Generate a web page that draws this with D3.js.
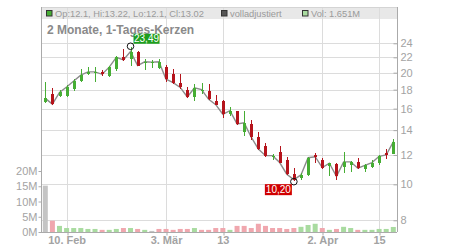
<!DOCTYPE html>
<html><head><meta charset="utf-8">
<script src="https://cdn.jsdelivr.net/npm/d3@7"></script>
<style>body{margin:0;background:#fff}svg{display:block;font-family:"Liberation Sans",Arial,sans-serif}</style>
</head><body><svg id="c" width="450" height="250"></svg>
<script>
const open  = [16.7,17.5,17.3,17.3,18.1,19.0,19.8,20.05,20.1,19.55,20.4,22.0,21.8,22.8,21.3,21.2,20.55,20.75,19.8,18.8,18.0,17.2,17.9,17.8,16.75,16.8,15.5,15.75,13.8,14.55,13.4,12.7,11.85,12.2,11.6,10.65,10.4,10.6,12.0,11.6,11.2,11.35,11.15,11.25,11.5,11.0,11.15,11.4,12.15,12.1];
const high  = [18.9,18.2,18.0,18.5,19.2,20.4,20.7,20.7,20.35,20.85,22.2,23.1,23.49,22.85,21.75,21.65,21.75,20.95,20.5,19.8,18.3,18.6,18.8,18.6,17.4,16.85,16.2,15.8,15.75,14.9,13.85,12.95,12.1,12.7,11.85,11.05,10.7,11.85,12.15,11.8,11.45,11.45,12.2,11.55,11.8,11.35,11.6,12.0,12.45,13.22];
const low   = [16.6,16.4,17.2,17.2,17.9,18.9,19.7,18.9,19.55,19.45,20.2,21.5,20.9,20.8,20.35,20.55,20.4,18.9,18.6,18.1,17.05,16.8,17.5,16.9,16.35,15.1,15.25,14.45,13.5,13.2,12.4,11.85,11.65,11.4,10.6,10.2,10.25,10.55,11.45,11.0,10.55,10.25,10.7,10.8,11.0,10.8,11.05,11.3,11.7,12.1];
const close = [17.05,16.45,17.7,18.3,19.0,19.7,20.1,20.1,19.8,20.7,22.0,21.65,22.8,20.9,21.4,21.35,21.4,19.2,18.8,18.25,17.2,18.2,18.0,16.95,16.4,15.45,15.8,14.55,14.65,13.4,12.45,11.95,11.95,11.45,10.65,10.3,10.6,11.8,11.87,11.1,11.4,10.5,11.5,11.5,11.05,11.25,11.45,11.9,12.0,13.02];
const volume = [15.2,3.7,2.0,1.3,1.3,1.3,1.0,1.0,0.7,0.7,1.0,1.3,1.3,1.0,0.7,0.35,1.0,1.0,0.7,1.0,1.0,1.3,0.7,0.7,1.3,1.3,0.7,2.0,2.0,1.3,2.7,2.0,1.3,1.3,1.0,1.3,1.7,2.3,2.7,1.3,0.7,1.0,1.7,1.3,0.7,0.7,0.7,1.0,1.0,1.651];
const volDir = ["n","d","u","u","u","u","u","u","d","u","u","d","u","d","u","n","d","d","d","d","d","u","d","d","d","d","u","d","d","d","d","d","d","d","d","d","u","u","u","d","u","d","u","u","d","u","u","u","u","u"];
const xTickIdx = [3,17,25,39,47];
const xTickLabels = ["10. Feb","3. Mär","13","2. Apr","15"];
const priceTicks = [24,22,20,18,16,14,12,10,8];
const volTicks = [0,5,10,15,20];
const titleText = "2 Monate, 1-Tages-Kerzen";
const legendItems = ["Op:12.1, Hi:13.22, Lo:12.1, Cl:13.02","volladjustiert","Vol: 1.651M"];

const L=41,R=397,T=7,B=232;
const svg=d3.select("#c");
const x=d3.scaleLinear().domain([0,close.length-1]).range([45.3,393.3]);
const y=d3.scaleLog().domain([8,24]).range([220.3,43.3]);
const yv=d3.scaleLinear().domain([0,20]).range([B,171]);
const GREEN="#46ad34",RED="#b5141c";
const volCol={u:"#a9dba0",d:"#f0a7ae",n:"#c4c4c4"};

// legend band
svg.append("rect").attr("x",L).attr("y",T).attr("width",R-L).attr("height",12).attr("fill","#e8e8e8");
// grid
const grid=svg.append("g").attr("stroke","#dcdcdc").attr("stroke-width",1).attr("shape-rendering","crispEdges");
grid.selectAll(".h").data(priceTicks).join("line").attr("x1",L).attr("x2",R).attr("y1",d=>Math.round(y(d))+0.5).attr("y2",d=>Math.round(y(d))+0.5);
grid.selectAll(".v").data(xTickIdx).join("line").attr("y1",T).attr("y2",B).attr("x1",d=>Math.round(x(d))+0.5).attr("x2",d=>Math.round(x(d))+0.5);
// top border
svg.append("line").attr("x1",L).attr("x2",R).attr("y1",T+0.5).attr("y2",T+0.5).attr("stroke","#d4d4d4");

// legend
const lg=svg.append("g").attr("font-size","9.3px").attr("fill","#9a9a9a");
const lgX=[46,221,302], lgFill=[GREEN,"#555","#a9dba0"];
legendItems.forEach((t,i)=>{
  lg.append("rect").attr("x",lgX[i]+0.5).attr("y",10.5).attr("width",5.5).attr("height",5.5).attr("fill",lgFill[i]).attr("stroke","#333").attr("stroke-width",1);
  lg.append("text").attr("x",lgX[i]+9).attr("y",17).text(t);
});
// title
svg.append("text").attr("x",47).attr("y",34).attr("font-size","12px").attr("font-weight","bold").attr("fill","#8a8a8a").text(titleText);

// volume
svg.append("g").selectAll("rect").data(volume).join("rect")
  .attr("x",(d,i)=>x(i)-2.5).attr("width",5).attr("y",d=>yv(d)).attr("height",d=>B-yv(d))
  .attr("fill",(d,i)=>volCol[volDir[i]]);

// close line
svg.append("path").datum(close).attr("fill","none").attr("stroke","#8c8c8c").attr("stroke-width",1.4)
  .attr("d",d3.line().x((d,i)=>x(i)).y(d=>y(d)));

// candles
const cg=svg.append("g").attr("shape-rendering","crispEdges");
close.forEach((c,i)=>{
  const col=c>=open[i]?GREEN:RED;
  const cx=Math.round(x(i));
  cg.append("line").attr("x1",cx+0.5).attr("x2",cx+0.5).attr("y1",y(high[i])).attr("y2",y(low[i])).attr("stroke",col);
  const top=y(Math.max(c,open[i])),bot=y(Math.min(c,open[i]));
  cg.append("rect").attr("x",cx-1).attr("width",3).attr("y",top).attr("height",Math.max(1,bot-top)).attr("fill",col);
});

// hi/lo markers
const hiI=d3.maxIndex(high),loI=d3.minIndex(low);
const fmt=v=>v.toFixed(2).replace(".",",");
const hx=x(hiI),hy=y(high[hiI]),lx=x(loI),ly=y(low[loI]);
svg.append("circle").attr("cx",hx).attr("cy",hy-0.5).attr("r",3.3).attr("fill","none").attr("stroke","#111").attr("stroke-width",1);
svg.append("circle").attr("cx",lx).attr("cy",ly+0.5).attr("r",3.3).attr("fill","none").attr("stroke","#111").attr("stroke-width",1);
svg.append("rect").attr("x",hx+3).attr("y",hy-13).attr("width",26).attr("height",10).attr("fill","#1e9e1e");
svg.append("text").attr("x",hx+16).attr("y",hy-4.6).attr("text-anchor","middle").attr("font-size","10px").attr("fill","#fff").text(fmt(high[hiI]));
svg.append("rect").attr("x",lx-29).attr("y",ly+3).attr("width",27).attr("height",11).attr("fill","#d00000");
svg.append("text").attr("x",lx-15.5).attr("y",ly+12).attr("text-anchor","middle").attr("font-size","10px").attr("fill","#fff").text(fmt(low[loI]));

// axes
const axCol="#aaa";
function styleAxis(g){g.select(".domain").attr("stroke",axCol);g.selectAll(".tick line").attr("stroke",axCol);g.selectAll("text").attr("fill","#a3a3a3");}
svg.append("g").attr("transform",`translate(${L+0.5},0)`)
  .call(d3.axisLeft(yv).tickValues(volTicks).tickFormat(d=>d+"M").tickSize(3).tickPadding(1).tickSizeOuter(0))
  .attr("font-size","11px").attr("font-family",null).call(styleAxis)
  .select(".domain").attr("d",`M0,${T}V${B}`);
svg.append("g").attr("transform",`translate(${R+0.5},0)`)
  .call(d3.axisRight(y).tickValues(priceTicks).tickFormat(d3.format("d")).tickSizeInner(-4).tickPadding(3).tickSizeOuter(0))
  .attr("font-size","11px").attr("font-family",null).call(styleAxis)
  .select(".domain").attr("d",`M0,${T}V${B}`);
const xb=svg.append("g").attr("transform",`translate(0,${B+0.5})`)
  .call(d3.axisBottom(x).tickValues(xTickIdx).tickFormat((d,i)=>xTickLabels[i]).tickSize(3).tickPadding(1).tickSizeOuter(0))
  .attr("font-size","11px").attr("font-weight","bold").attr("font-family",null).call(styleAxis);
xb.select(".domain").attr("d",`M${L},0H${R}`);
xb.selectAll(".tick line").attr("transform",d=>`translate(${Math.round(x(d))+0.5-x(d)},0)`);
</script></body></html>
